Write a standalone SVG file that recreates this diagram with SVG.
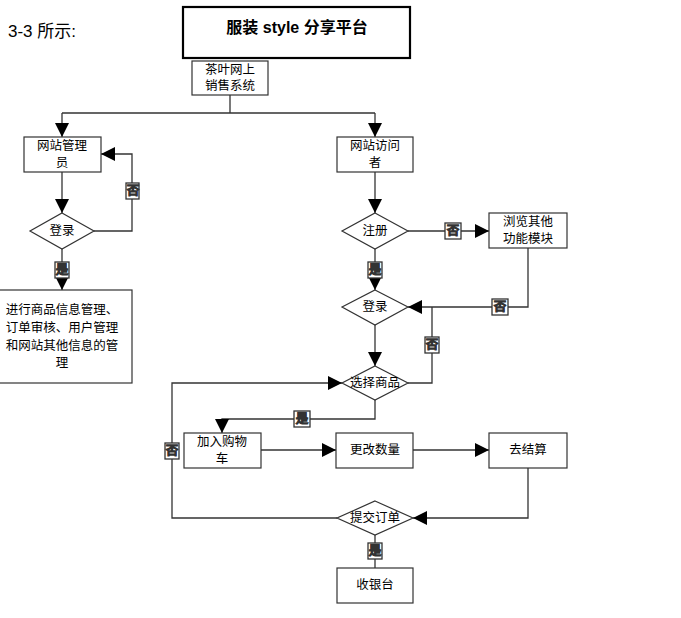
<svg xmlns="http://www.w3.org/2000/svg" width="681" height="618" viewBox="0 0 681 618">
<style>
text{font-family:"Liberation Sans","Noto Sans CJK SC",sans-serif;font-size:12.5px;fill:#000;text-anchor:middle;dominant-baseline:central}
.b{fill:#fff;stroke:#333;stroke-width:1.2}
.c{fill:none;stroke:#333;stroke-width:1.3}
.l{fill:#fff}
</style>
<defs><marker id="a" viewBox="0 0 10 10" refX="10" refY="5" markerWidth="14" markerHeight="14" markerUnits="userSpaceOnUse" orient="auto"><path d="M0,0L10,5L0,10z" fill="#000"/></marker></defs>
<rect width="681" height="618" fill="#fff"/>
<text x="8" y="31" style="text-anchor:start;font-size:17px">3-3 所示:</text>
<g id="title"><rect x="183" y="7" width="227" height="51" fill="#fff" stroke="#000" stroke-width="2.2"/><text x="297" y="27" style="font-size:16px;font-weight:bold">服装 style 分享平台</text></g>
<g id="connectors" class="c">
<path class="c" d="M230,95V113M62,113H375"/>
<path class="c" d="M62,113V137" marker-end="url(#a)"/>
<path class="c" d="M375,113V137" marker-end="url(#a)"/>
<path class="c" d="M62,172V213" marker-end="url(#a)"/>
<path class="c" d="M94,231H132V154H101" marker-end="url(#a)"/>
<path class="c" d="M62,249V290" marker-end="url(#a)"/>
<path class="c" d="M375,172V213" marker-end="url(#a)"/>
<path class="c" d="M408,231H489" marker-end="url(#a)"/>
<path class="c" d="M375,249V290" marker-end="url(#a)"/>
<path class="c" d="M528,248V307H408" marker-end="url(#a)"/>
<path class="c" d="M408,383H432V307"/>
<path class="c" d="M375,325V366" marker-end="url(#a)"/>
<path class="c" d="M375,400V419H222V433" marker-end="url(#a)"/>
<path class="c" d="M261,450H336" marker-end="url(#a)"/>
<path class="c" d="M413,450H489" marker-end="url(#a)"/>
<path class="c" d="M528,468V518H413" marker-end="url(#a)"/>
<path class="c" d="M337,518H172V383H342" marker-end="url(#a)"/>
<path class="c" d="M375,535V568"/>
<rect class="l" x="126" y="183" width="13" height="16"/><text x="133" y="191">否</text>
<rect class="l" x="55" y="262" width="14" height="16"/><text x="62" y="270">是</text>
<rect class="l" x="445" y="223" width="16" height="16"/><text x="453" y="231">否</text>
<rect class="l" x="368" y="262" width="14" height="16"/><text x="375" y="270">是</text>
<rect class="l" x="492" y="299" width="16" height="16"/><text x="500" y="307">否</text>
<rect class="l" x="425" y="337" width="14" height="16"/><text x="432" y="345">否</text>
<rect class="l" x="294" y="411" width="16" height="16"/><text x="302" y="419">是</text>
<rect class="l" x="165" y="443" width="14" height="16"/><text x="172" y="451">否</text>
<rect class="l" x="368" y="543" width="14" height="16"/><text x="375" y="551">是</text>
</g>
<g id="sys"><rect class="b" x="192" y="61" width="76" height="34"/><text x="230" y="70">茶叶网上</text><text x="230" y="86">销售系统</text></g>
<g id="admin"><rect class="b" x="24" y="137" width="77" height="35"/><text x="62" y="146">网站管理</text><text x="62" y="163">员</text></g>
<g id="visitor"><rect class="b" x="337" y="137" width="76" height="35"/><text x="375" y="146">网站访问</text><text x="375" y="163">者</text></g>
<g id="login1"><path class="b" d="M62,213L94,231L62,249L30,231z"/><text x="62" y="231">登录</text></g>
<g id="manage"><rect class="b" x="-1" y="290" width="133" height="93"/><text x="62" y="310">进行商品信息管理、</text><text x="62" y="328">订单审核、用户管理</text><text x="62" y="346">和网站其他信息的管</text><text x="62" y="363">理</text></g>
<g id="reg"><path class="b" d="M375,213L408,231L375,249L342,231z"/><text x="375" y="231">注册</text></g>
<g id="browse"><rect class="b" x="489" y="213" width="78" height="35"/><text x="528" y="222">浏览其他</text><text x="528" y="239">功能模块</text></g>
<g id="login2"><path class="b" d="M375,290L408,307L375,325L342,307z"/><text x="375" y="307">登录</text></g>
<g id="select"><path class="b" d="M375,366L408,383L375,400L342,383z"/><text x="375" y="383">选择商品</text></g>
<g id="cart"><rect class="b" x="184" y="433" width="77" height="35"/><text x="222" y="442">加入购物</text><text x="222" y="459">车</text></g>
<g id="qty"><rect class="b" x="336" y="433" width="77" height="35"/><text x="375" y="450">更改数量</text></g>
<g id="checkout"><rect class="b" x="489" y="433" width="78" height="35"/><text x="528" y="450">去结算</text></g>
<g id="submit"><path class="b" d="M375,501L413,518L375,535L337,518z"/><text x="375" y="518">提交订单</text></g>
<g id="cashier"><rect class="b" x="337" y="568" width="76" height="35"/><text x="375" y="585">收银台</text></g>
</svg>
